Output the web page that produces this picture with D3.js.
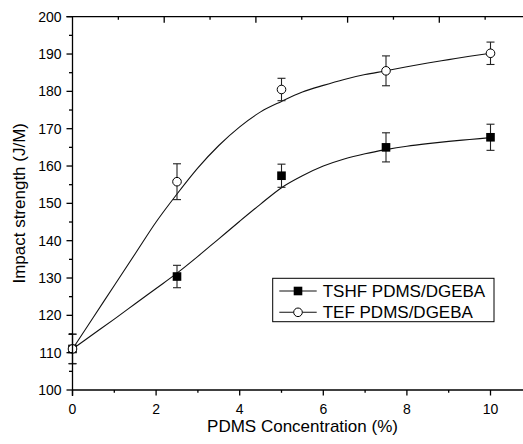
<!DOCTYPE html>
<html><head><meta charset="utf-8">
<script src="https://cdn.jsdelivr.net/npm/d3@7"></script>
<style>body{margin:0;background:#fff}svg{display:block}text{font-family:"Liberation Sans",Arial,sans-serif;fill:#000}</style>
</head><body><svg id="c" width="523" height="444"></svg>
<script>
const conc = [0, 2.5, 5, 7.5, 10];
const tshf = [111, 130.4, 157.4, 165.0, 167.7];
const tshfErr = [4, 3, 3.1, 3.9, 3.5];
const tef = [111, 155.8, 180.5, 185.5, 190.2];
const tefErr = [3.9, 4.8, 3, 4, 3];
// fitted curves
const fitX = [0, 0.5, 1, 1.5, 2, 2.5, 3, 3.5, 4, 4.5, 5, 5.5, 6, 6.5, 7, 7.5, 8, 8.5, 9, 9.5, 10];
const tshfFit = [111, 115, 119, 123.1, 127.2, 131.3, 135.8, 140.5, 145.2, 149.8, 154.2, 157.4, 160, 161.9, 163.3, 164.4, 165.3, 166, 166.6, 167.1, 167.6];
const tefFit = [111, 119.5, 128, 136.5, 145, 152.5, 159.5, 165.5, 170.5, 174.5, 177.3, 179.8, 181.6, 183.2, 184.5, 185.5, 186.6, 187.6, 188.5, 189.4, 190.2];
const xTicks = [0, 2, 4, 6, 8, 10];
const yTicks = [100, 110, 120, 130, 140, 150, 160, 170, 180, 190, 200];
const seriesNames = ["TSHF PDMS/DGEBA", "TEF PDMS/DGEBA"];

const svg = d3.select("#c");
const L = 72.5, T = 16.7, B = 390, R = 523;
const x = d3.scaleLinear().domain([0, 10]).range([L, 490.5]);
const y = d3.scaleLinear().domain([100, 200]).range([B, T]);
const xTop = d3.scaleLinear().domain([0, 10]).range([L, L + 10 * 45.85]);

// curves
const line = d3.line().x(d => x(d[0])).y(d => y(d[1])).curve(d3.curveMonotoneX);
[tshfFit, tefFit].forEach(f => {
  svg.append("path").attr("d", line(fitX.map((v, i) => [v, f[i]])))
    .attr("fill", "none").attr("stroke", "#111").attr("stroke-width", 1.1);
});

// error bars
function errBars(vals, errs) {
  conc.forEach((c, i) => {
    const cx = x(c), y1 = y(vals[i] + errs[i]), y2 = y(vals[i] - errs[i]);
    const g = svg.append("g").attr("stroke", "#222").attr("stroke-width", 1.1);
    g.append("line").attr("x1", cx).attr("x2", cx).attr("y1", y1).attr("y2", y2);
    g.append("line").attr("x1", cx - 4).attr("x2", cx + 4).attr("y1", y1).attr("y2", y1);
    g.append("line").attr("x1", cx - 4).attr("x2", cx + 4).attr("y1", y2).attr("y2", y2);
  });
}
errBars(tshf, tshfErr);
errBars(tef, tefErr);

// markers
conc.forEach((c, i) => {
  svg.append("rect").attr("x", x(c) - 4.3).attr("y", y(tshf[i]) - 4.3)
    .attr("width", 8.6).attr("height", 8.6).attr("fill", "#000");
});
conc.forEach((c, i) => {
  svg.append("circle").attr("cx", x(c)).attr("cy", y(tef[i])).attr("r", 4.3)
    .attr("fill", "#fff").attr("stroke", "#000").attr("stroke-width", 1);
});

// axes
const ax = svg.append("g").attr("stroke", "#000").attr("stroke-width", 1.3);
ax.append("line").attr("x1", L).attr("x2", L).attr("y1", T).attr("y2", B + 6);
ax.append("line").attr("x1", L).attr("x2", R).attr("y1", B).attr("y2", B);
ax.append("line").attr("x1", L - 6).attr("x2", R).attr("y1", T).attr("y2", T);
// y ticks
d3.range(100, 201, 5).forEach(v => {
  const major = v % 10 === 0;
  ax.append("line").attr("x1", L - (major ? 6 : 3.5)).attr("x2", L).attr("y1", y(v)).attr("y2", y(v));
});
// x ticks
d3.range(0, 11, 1).forEach(v => {
  const major = v % 2 === 0;
  ax.append("line").attr("x1", x(v)).attr("x2", x(v)).attr("y1", B).attr("y2", B + (major ? 5.5 : 2.8));
});
// top ticks
d3.range(1, 10, 1).forEach(v => {
  const major = v % 2 === 0;
  ax.append("line").attr("x1", xTop(v)).attr("x2", xTop(v)).attr("y1", T).attr("y2", T + (major ? 6 : 3));
});

// tick labels
yTicks.forEach(v => {
  svg.append("text").attr("x", 61.5).attr("y", y(v)).attr("dy", "0.36em")
    .attr("text-anchor", "end").attr("font-size", 14).text(v);
});
xTicks.forEach(v => {
  svg.append("text").attr("x", x(v)).attr("y", 414)
    .attr("text-anchor", "middle").attr("font-size", 14).text(v);
});

// titles
svg.append("text").attr("x", 302.5).attr("y", 432).attr("text-anchor", "middle")
  .attr("font-size", 17).text("PDMS Concentration (%)");
svg.append("text").attr("transform", "translate(25.3,203.3) rotate(-90)")
  .attr("text-anchor", "middle").attr("font-size", 17).text("Impact strength (J/M)");

// legend
const lg = svg.append("g");
lg.append("rect").attr("x", 272.7).attr("y", 278.3).attr("width", 221.3).attr("height", 43.4)
  .attr("fill", "#fff").attr("stroke", "#000").attr("stroke-width", 1);
[291, 312.3].forEach((ly, i) => {
  lg.append("line").attr("x1", 279.3).attr("x2", 316.7).attr("y1", ly).attr("y2", ly)
    .attr("stroke", "#111").attr("stroke-width", 1.1);
  if (i === 0) {
    lg.append("rect").attr("x", 298 - 4.3).attr("y", ly - 4.3).attr("width", 8.6).attr("height", 8.6).attr("fill", "#000");
  } else {
    lg.append("circle").attr("cx", 298).attr("cy", ly).attr("r", 4.3).attr("fill", "#fff").attr("stroke", "#000");
  }
  lg.append("text").attr("x", 322.7).attr("y", ly).attr("dy", "0.36em").attr("font-size", 17).text(seriesNames[i]);
});
</script></body></html>
